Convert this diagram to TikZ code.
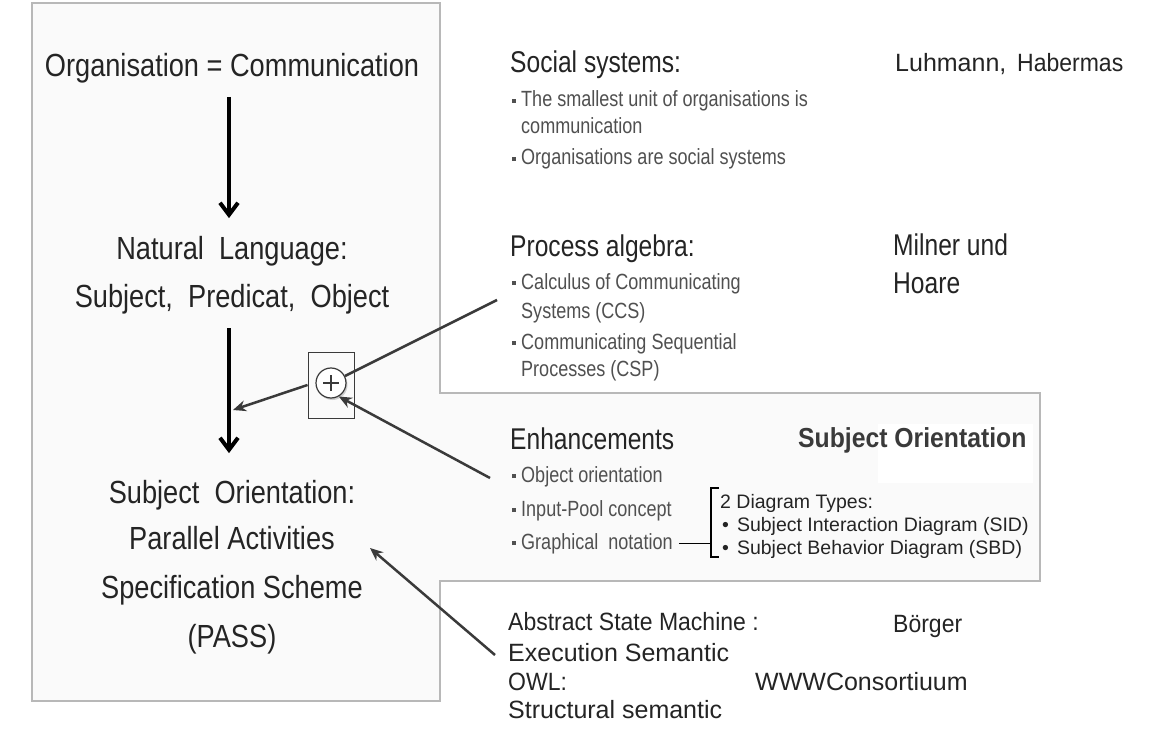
\documentclass[tikz,border=0pt]{standalone}
\usepackage{fontspec}
\setmainfont{Liberation Sans}
\newfontfamily\leftfont{Liberation Sans}[FakeStretch=0.85]
\newfontfamily\headfont{Liberation Sans}[FakeStretch=0.82]
\newfontfamily\tightfont{Liberation Sans}[FakeStretch=0.92]
\newfontfamily\boldhead{Liberation Sans Bold}[FakeStretch=0.9]
\usetikzlibrary{arrows.meta,shadows}

\definecolor{panelfill}{HTML}{FAFAFA}
\definecolor{panelline}{HTML}{B8B8B8}
\definecolor{inktext}{HTML}{242424}
\definecolor{listgray}{HTML}{505050}
\definecolor{linkgray}{HTML}{3A3A3A}

% small square bullet of the lists
\newcommand{\sqbul}{\rule[4pt]{4pt}{4pt}\hspace{5pt}}

\tikzset{
  lefttext/.style={font={\leftfont\fontsize{32}{38}\selectfont}, text=inktext, inner sep=0pt, anchor=base},
  headtext/.style={font={\headfont\fontsize{30}{36}\selectfont}, text=inktext, inner sep=0pt, anchor=base west},
  listtext/.style={font={\headfont\fontsize{22}{26}\selectfont}, text=listgray, inner sep=0pt, anchor=base west},
  nametext/.style={font={\fontsize{25}{30}\selectfont}, text=inktext, inner sep=0pt, anchor=base west},
  tighttext/.style={font={\tightfont\fontsize{25}{30}\selectfont}, text=inktext, inner sep=0pt, anchor=base west},
  typetext/.style={font={\fontsize{19.5}{23}\selectfont}, text=inktext, inner sep=0pt, anchor=base west},
  boldtext/.style={font={\boldhead\fontsize{27.5}{32}\selectfont}, text=inktext!90, inner sep=0pt, anchor=base west},
  bigarrow/.style={line width=4pt, -{Straight Barb[length=12pt,width=18pt]}},
  linkline/.style={draw=linkgray, line width=2.5pt},
  linkarrow/.style={linkline, -{Stealth[length=13pt,width=11pt]}},
  bracket/.style={draw=black, line width=2pt},
}

\begin{document}
\begin{tikzpicture}[x=1pt,y=-1pt]
    % Background and fixed size of the page:
    \fill[white] (0,0) rectangle (1171,749);
    \useasboundingbox (0,0) rectangle (1171,749);

    % The grey panel behind the left column and the enhancements:
    \path[fill=panelfill, draw=panelline, line width=2pt]
        (32,3) -- (440,3) -- (440,393) -- (1040,393) -- (1040,581)
        -- (440,581) -- (440,701) -- (32,701) -- cycle;
    \fill[white] (878,424) rectangle (1033,483);

    % Left column:
    \node[lefttext] (org) at (232,77) {Organisation = Communication};
    \node[lefttext] (nat) at (232,259.5) {Natural\ \ Language:};
    \node[lefttext] (spo) at (232,307.5) {Subject,\ \ Predicat,\ \ Object};
    \node[lefttext] (subj) at (232,503.5) {Subject\ \ Orientation:};
    \node[lefttext] (par) at (232,549.5) {Parallel Activities};
    \node[lefttext] (spec) at (232,598.5) {Specification Scheme};
    \node[lefttext] (pass) at (232,647.5) {(PASS)};

    \draw[bigarrow, shorten <=13pt, shorten >=18pt] ([xshift=-3pt]org.south) -- ([xshift=-3pt]nat.north);
    \draw[bigarrow, shorten <=14pt, shorten >=27pt] ([xshift=-3pt]spo.south) -- ([xshift=-3pt]subj.north);

    % Social systems:
    \node[headtext] (social) at (510,73) {Social systems:};
    \node[listtext] (soc1) at (512,107) {\sqbul The smallest unit of organisations is};
    \node[listtext] (soc1b) at (521,134) {communication};
    \node[listtext] (soc2) at (512,165) {\sqbul Organisations are social systems};
    \node[nametext] (luh) at (895,72) {Luhmann,};
    \node[tighttext] (haber) at (1017,72) {Habermas};

    % Process algebra:
    \node[headtext] (proc) at (510,256) {Process algebra:};
    \node[listtext] (ccs) at (512,289) {\sqbul Calculus of Communicating};
    \node[listtext] (ccsb) at (521,318) {Systems (CCS)};
    \node[listtext] (csp) at (512,349) {\sqbul Communicating Sequential};
    \node[listtext] (cspb) at (521,376) {Processes (CSP)};
    \node[headtext] (milner) at (893,255) {Milner und};
    \node[headtext] (hoare) at (893,293) {Hoare};

    % Enhancements:
    \node[headtext] (enh) at (510,449) {Enhancements};
    \node[listtext] (objor) at (512,482) {\sqbul Object orientation};
    \node[listtext] (pool) at (512,516) {\sqbul Input-Pool concept};
    \node[listtext] (graph) at (512,549) {\sqbul Graphical\ \ notation};
    \node[boldtext] (so) at (798,447) {Subject Orientation};

    % The two diagram types with their bracket:
    \node[typetext] (types) at (720,508) {2 Diagram Types:};
    \node[typetext] (sid) at (722,531) {\textbullet\hspace{8pt}Subject Interaction Diagram (SID)};
    \node[typetext] (sbd) at (722,554) {\textbullet\hspace{8pt}Subject Behavior Diagram (SBD)};
    \coordinate (brtop) at (719,488);
    \coordinate (brbot) at (719,557);
    \coordinate (brline) at (711,0);
    \draw[bracket] (brtop) -- (brtop -| brline) -- (brbot -| brline) -- (brbot);
    \draw[bracket, line width=1.5pt] ([xshift=6pt]graph.east) -- (graph.east -| brline);

    % Semantics:
    \node[tighttext] (asm) at (508,630) {Abstract State Machine :};
    \node[tighttext] (boerger) at (893,632) {Börger};
    \node[nametext] (exec) at (508,661) {Execution Semantic};
    \node[tighttext] (owl) at (508,690) {OWL:};
    \node[nametext] (wcons) at (755,690) {WWWConsortiuum};
    \node[nametext] (struct) at (508,718) {Structural semantic};

    % The plus joint and the links into the left column:
    \node[draw=linkgray, line width=1pt, minimum width=46pt, minimum height=66pt, inner sep=0pt] (plusbox) at (331,385) {};
    \node[circle, draw=linkgray, line width=1.2pt, fill=white, minimum size=30pt, inner sep=0pt,
          drop shadow={shadow xshift=1.5pt, shadow yshift=-2pt, opacity=0.35},
          path picture={
            \draw[line width=2.4pt] ([xshift=-8pt]path picture bounding box.center) -- ([xshift=8pt]path picture bounding box.center);
            \draw[line width=2.4pt] ([yshift=-8pt]path picture bounding box.center) -- ([yshift=8pt]path picture bounding box.center);
          }] (plus) at (331,383) {};

    \coordinate (ccsin) at (497,300);
    \coordinate (objin) at (490,478);
    \coordinate (asmin) at (495,655);
    \coordinate (joinpt) at (233,410);
    \coordinate (passtip) at (370,548);

    \draw[linkline] (ccsin) -- (plus);
    \draw[linkarrow] (plusbox.west) -- (joinpt);
    \draw[linkarrow] (objin) -- (plus.-60);
    \draw[linkarrow] (asmin) -- (passtip);
\end{tikzpicture}
\end{document}
